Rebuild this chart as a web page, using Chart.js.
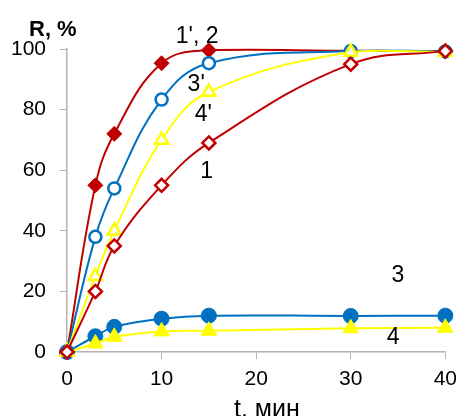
<!DOCTYPE html>
<html>
<head>
<meta charset="utf-8">
<script src="https://cdn.jsdelivr.net/npm/chart.js@4.4.1/dist/chart.umd.min.js"></script>
<style>
    html, body { margin: 0; padding: 0; background: #fff; }
    #wrap { width: 465px; height: 416px; position: relative; }
</style>
</head>
<body>
<div id="wrap"><canvas id="chart"></canvas></div>
<script>
// время, мин
const times = [0, 3, 5, 10, 15, 30, 40];

// степень извлечения R, %
const r1      = [0, 20, 35, 55, 69, 95, 99.3];
const r1p2    = [0, 55, 72, 95.3, 99.6, 99.4, 99.3];
const r3p     = [0, 38, 54, 83.3, 95.3, 99.3, 99.2];
const r4p     = [0, 25, 40, 70, 85.8, 99, 99];
const r3      = [0, 5.2, 8.3, 11, 12, 11.9, 12];
const r4      = [0, 2.8, 5, 6.8, 7, 7.8, 8];

const xTicks = [0, 10, 20, 30, 40];
const yTicks = [0, 20, 40, 60, 80, 100];

// подписи кривых (в координатах графика)
const curveNames = ["1', 2", "3'", "4'", '1', '3', '4'];
const nameX = [11.5, 12.75, 13.5, 14.1, 34.3, 33.8];
const nameY = [102.1, 86.1, 76.2, 57.5, 23.2, 2.5];

const RED = '#C00000';
const BLUE = '#0070C0';
const YELLOW = '#FFFF00';
const AXIS = '#B3B3B3';
const FONT = "'Liberation Sans', Arial, sans-serif";

const pts = arr => arr.map((v, i) => ({ x: times[i], y: v }));

function series(label, values, color, style, radius, open, order) {
    return {
        label: label,
        data: pts(values),
        borderColor: color,
        borderWidth: 2,
        tension: 0.4,
        pointStyle: style,
        pointRadius: radius,
        pointBackgroundColor: open ? '#fff' : color,
        pointBorderColor: color,
        pointBorderWidth: open ? 2.5 : 1,
        clip: false,
        order: order
    };
}

const labelsPlugin = {
    id: 'curveLabels',
    afterDraw(chart) {
        const ctx = chart.ctx;
        const xs = chart.scales.x, ys = chart.scales.y;
        ctx.save();
        ctx.fillStyle = '#000';
        ctx.textAlign = 'left';
        ctx.textBaseline = 'alphabetic';
        ctx.font = '23px ' + FONT;
        curveNames.forEach((t, i) => {
            ctx.fillText(t, xs.getPixelForValue(nameX[i]), ys.getPixelForValue(nameY[i]));
        });
        ctx.font = 'bold 22px ' + FONT;
        ctx.fillText('R, %', 29, 36);
        ctx.font = '25px ' + FONT;
        ctx.fillText('t, мин', 234, 417);
        ctx.restore();
    }
};

new Chart(document.getElementById('chart'), {
    type: 'line',
    data: {
        datasets: [
            series('1', r1, RED, 'rectRot', 6.5, true, 1),
            series("4'", r4p, YELLOW, 'triangle', 7.5, true, 2),
            series("3'", r3p, BLUE, 'circle', 6, true, 3),
            series("1', 2", r1p2, RED, 'rectRot', [0, 7.5, 7.5, 7.5, 7.5, 0, 0], false, 4),
            series('4', r4, YELLOW, 'triangle', 9, false, 5),
            series('3', r3, BLUE, 'circle', 7.5, false, 6)
        ]
    },
    options: {
        responsive: true,
        maintainAspectRatio: false,
        animation: false,
        layout: { padding: { top: 49, right: 14, left: 0, bottom: 0 } },
        plugins: {
            legend: { display: false },
            tooltip: { enabled: false }
        },
        scales: {
            x: {
                type: 'linear',
                min: 0,
                max: 40,
                afterBuildTicks: s => { s.ticks = xTicks.map(v => ({ value: v })); },
                afterFit: s => { s.height = 64; },
                ticks: { color: '#000', font: { family: FONT, size: 21 }, padding: 8, maxRotation: 0 },
                grid: {
                    drawOnChartArea: false,
                    drawTicks: true,
                    tickLength: 7,
                    color: c => (c.tick && c.tick.value === 0) ? 'rgba(0,0,0,0)' : AXIS
                },
                border: { color: AXIS, width: 1.5 }
            },
            y: {
                min: 0,
                max: 100,
                afterBuildTicks: s => { s.ticks = yTicks.map(v => ({ value: v })); },
                afterFit: s => { s.width = 67; },
                ticks: { color: '#000', font: { family: FONT, size: 21 }, padding: 14 },
                grid: { drawOnChartArea: false, drawTicks: true, tickLength: 7, color: AXIS },
                border: { color: AXIS, width: 1.5 }
            }
        }
    },
    plugins: [labelsPlugin]
});
</script>
</body>
</html>
